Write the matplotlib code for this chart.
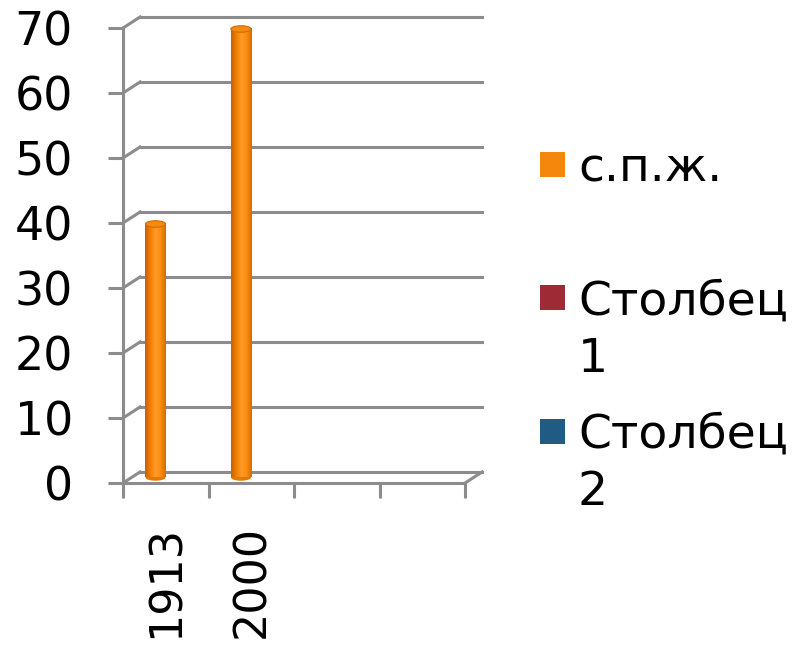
import numpy as np
import matplotlib.pyplot as plt
from matplotlib.patches import Ellipse, Rectangle
from matplotlib.colors import LinearSegmentedColormap

# данные
categories = ['1913', '2000', '', '']
spzh = [39, 69, None, None]
series_names = ['с.п.ж.', 'Столбец\n1', 'Столбец\n2']
series_colors = ['#F5870C', '#9E2A35', '#1F5B82']
y_ticks = [0, 10, 20, 30, 40, 50, 60, 70]

GRID = '#8C8C8C'
DX, DY = 0.2, 1.7  # смещение задней стенки (псевдо-3D)

fig = plt.figure(figsize=(8.04, 6.5), dpi=100)
ax = fig.add_axes([123 / 804, 167 / 650, 342 / 804, 455 / 650])

# задняя стенка: линии сетки и диагонали
for v in y_ticks:
    ax.plot([0, DX], [v, v + DY], color=GRID, lw=2.2, clip_on=False, zorder=1)
    ax.plot([DX, 4 + DX], [v + DY, v + DY], color=GRID, lw=2.2, clip_on=False, zorder=1)
ax.plot([4, 4 + DX], [0, DY], color=GRID, lw=2.2, clip_on=False, zorder=1)

# цилиндры
cyl = LinearSegmentedColormap.from_list('cyl', ['#C86000', '#F08000', '#FF9A28', '#FA8C12', '#D46C00'])
grad = np.linspace(0, 1, 64).reshape(1, -1)
w = 0.235
for i, v in enumerate(spzh):
    if v is None:
        continue
    xc = i + 0.38
    y0 = DY / 2
    top = y0 + v
    ax.add_patch(Ellipse((xc, y0), w, 1.0, fc='#E47800', ec='none', zorder=2, clip_on=False))
    ax.imshow(grad, cmap=cyl, extent=[xc - w / 2, xc + w / 2, y0, top], aspect='auto',
              zorder=3, clip_on=False)
    ax.add_patch(Ellipse((xc, top), w, 1.0, fc='#F28A14', ec='#D06C00', lw=0.8, zorder=4, clip_on=False))

ax.set_xlim(0, 4)
ax.set_ylim(0, 70)

for s in ['top', 'right']:
    ax.spines[s].set_visible(False)
for s in ['left', 'bottom']:
    ax.spines[s].set_color(GRID)
    ax.spines[s].set_linewidth(2.2)

ax.set_yticks(y_ticks)
ax.tick_params(axis='y', direction='out', length=11, width=2.2, color=GRID, labelsize=33, pad=25)
ax.set_xticks(range(5))
ax.set_xticklabels([])
ax.tick_params(axis='x', which='major', direction='out', length=11, width=2.2, color=GRID)
ax.set_xticks(np.arange(4) + 0.5, minor=True)
ax.set_xticklabels(categories, minor=True, rotation=90, fontsize=32)
ax.tick_params(axis='x', which='minor', length=0, pad=30)

# легенда
baselines = [182, 315, 448]
for name, color, yb in zip(series_names, series_colors, baselines):
    yc = yb - 17
    fig.patches.append(Rectangle((540 / 804, 1 - (yc + 12.5) / 650), 25 / 804, 25 / 650,
                                 transform=fig.transFigure, fc=color, ec='none'))
    for k, line in enumerate(name.split('\n')):
        fig.text(578 / 804, 1 - (yb + 57 * k) / 650, line, fontsize=34, va='baseline', ha='left')

fig.savefig('out.png', dpi=100)
